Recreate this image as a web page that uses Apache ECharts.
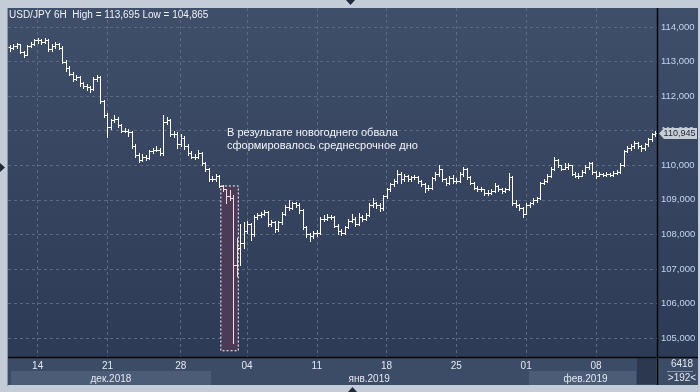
<!DOCTYPE html>
<html><head><meta charset="utf-8">
<script src="https://cdn.jsdelivr.net/npm/echarts@6/dist/echarts.min.js"></script>
<style>html,body{margin:0;padding:0;background:#c3ccd7;overflow:hidden}#c{width:700px;height:392px}</style>
</head><body><div id="c"></div><script>
const opens=[113.42,113.39,113.45,113.50,113.28,113.20,113.45,113.52,113.62,113.63,
113.58,113.62,113.35,113.45,113.50,113.40,113.00,112.80,112.65,112.50,
112.55,112.38,112.30,112.25,112.20,112.50,112.55,111.85,111.45,111.10,
111.30,111.35,111.15,111.00,111.00,110.95,110.55,110.30,110.15,110.25,
110.20,110.40,110.45,110.45,110.35,111.25,111.30,110.90,110.90,110.60,
110.80,110.55,110.35,110.25,110.25,110.35,110.05,109.90,109.60,109.60,
109.70,109.40,109.30,109.10,109.05,107.10,107.60,107.75,108.10,108.30,
108.00,108.50,108.55,108.60,108.65,108.30,108.35,108.15,108.35,108.60,
108.80,108.75,108.90,108.85,108.70,108.20,108.00,107.95,108.05,108.05,
108.45,108.45,108.50,108.50,108.25,108.10,108.05,108.20,108.40,108.45,
108.30,108.50,108.45,108.55,108.85,108.90,108.85,108.75,109.10,109.30,
109.45,109.55,109.75,109.60,109.70,109.60,109.65,109.65,109.55,109.45,
109.35,109.35,109.62,109.75,109.88,109.60,109.50,109.62,109.55,109.55,
109.75,109.90,109.65,109.50,109.35,109.30,109.30,109.20,109.20,109.25,
109.40,109.30,109.25,109.30,109.65,108.90,108.85,108.75,108.60,108.85,
108.90,109.00,109.05,109.50,109.55,109.70,109.90,110.15,110.00,109.90,
109.95,110.00,109.75,109.70,109.70,109.80,109.95,110.05,109.80,109.70,
109.75,109.72,109.75,109.72,109.78,109.80,110.00,110.40,110.50,110.55,
110.65,110.55,110.50,110.60,110.75,110.90];
const highs=[113.48,113.50,113.55,113.52,113.32,113.48,113.58,113.66,113.695,113.66,
113.68,113.64,113.50,113.56,113.53,113.44,113.05,112.86,112.70,112.62,
112.58,112.42,112.36,112.30,112.55,112.62,112.58,111.90,111.50,111.35,
111.45,111.40,111.20,111.08,111.05,110.98,110.60,110.35,110.32,110.30,
110.45,110.50,110.55,110.50,111.45,111.40,111.35,110.98,110.95,110.90,
110.85,110.60,110.40,110.32,110.45,110.38,110.10,109.92,109.68,109.75,
109.72,109.42,109.32,109.28,109.15,107.90,108.30,108.35,108.40,108.32,
108.55,108.62,108.65,108.70,108.68,108.42,108.38,108.40,108.65,108.85,
109.00,108.95,108.95,108.90,108.72,108.25,108.05,108.10,108.12,108.50,
108.55,108.58,108.55,108.52,108.30,108.15,108.25,108.45,108.60,108.50,
108.62,108.55,108.62,108.90,109.05,108.95,108.90,109.15,109.35,109.50,
109.60,109.85,109.80,109.75,109.72,109.70,109.72,109.68,109.58,109.48,
109.42,109.65,109.80,110.00,109.90,109.62,109.68,109.72,109.62,109.80,
109.95,109.92,109.68,109.52,109.40,109.38,109.32,109.28,109.30,109.48,
109.42,109.35,109.35,109.78,109.70,108.98,108.88,108.78,108.90,108.95,
109.05,109.08,109.52,109.60,109.75,109.95,110.25,110.18,110.02,110.05,
110.05,110.02,109.80,109.78,109.85,110.02,110.08,110.08,109.82,109.80,
109.78,109.80,109.78,109.82,109.85,110.05,110.45,110.55,110.60,110.70,
110.68,110.58,110.65,110.80,110.92,111.00];
const lows=[113.31,113.36,113.40,113.24,113.14,113.18,113.42,113.48,113.55,113.52,
113.55,113.30,113.32,113.40,113.36,112.95,112.74,112.60,112.44,112.46,
112.30,112.24,112.18,112.12,112.18,112.45,111.80,111.40,110.82,111.05,
111.25,111.10,110.95,110.95,110.85,110.50,110.25,110.08,110.12,110.15,
110.18,110.36,110.40,110.30,110.30,111.20,110.85,110.82,110.50,110.55,
110.48,110.30,110.20,110.18,110.22,110.00,109.82,109.55,109.55,109.55,
109.36,109.24,108.90,108.98,104.865,106.80,107.10,107.60,108.05,107.85,
107.95,108.45,108.50,108.55,108.25,108.25,108.08,108.10,108.30,108.55,
108.70,108.72,108.80,108.62,108.15,107.92,107.80,107.90,107.95,108.02,
108.40,108.42,108.44,108.20,108.02,107.98,108.02,108.18,108.35,108.25,
108.28,108.38,108.42,108.52,108.80,108.75,108.68,108.70,109.05,109.25,
109.40,109.50,109.50,109.55,109.55,109.55,109.60,109.50,109.40,109.22,
109.28,109.32,109.58,109.70,109.55,109.42,109.45,109.50,109.50,109.52,
109.70,109.60,109.45,109.30,109.25,109.25,109.15,109.15,109.18,109.22,
109.25,109.20,109.22,109.28,108.85,108.80,108.70,108.50,108.58,108.80,
108.88,108.95,109.02,109.45,109.52,109.65,109.85,109.95,109.85,109.88,
109.90,109.72,109.65,109.62,109.68,109.78,109.90,109.75,109.62,109.68,
109.68,109.70,109.68,109.70,109.75,109.78,109.98,110.38,110.45,110.50,
110.50,110.42,110.45,110.55,110.70,110.85];
const closes=[113.39,113.45,113.50,113.28,113.20,113.45,113.52,113.62,113.63,113.58,
113.62,113.35,113.45,113.50,113.40,113.00,112.80,112.65,112.50,112.55,
112.38,112.30,112.25,112.20,112.50,112.55,111.85,111.45,111.10,111.30,
111.35,111.15,111.00,111.00,110.95,110.55,110.30,110.15,110.25,110.20,
110.40,110.45,110.45,110.35,111.25,111.30,110.90,110.90,110.60,110.80,
110.55,110.35,110.25,110.25,110.35,110.05,109.90,109.60,109.60,109.70,
109.40,109.30,109.10,109.05,107.10,107.60,107.75,108.10,108.30,108.00,
108.50,108.55,108.60,108.65,108.30,108.35,108.15,108.35,108.60,108.80,
108.75,108.90,108.85,108.70,108.20,108.00,107.95,108.05,108.05,108.45,
108.45,108.50,108.50,108.25,108.10,108.05,108.20,108.40,108.45,108.30,
108.50,108.45,108.55,108.85,108.90,108.85,108.75,109.10,109.30,109.45,
109.55,109.75,109.60,109.70,109.60,109.65,109.65,109.55,109.45,109.35,
109.35,109.62,109.75,109.88,109.60,109.50,109.62,109.55,109.55,109.75,
109.90,109.65,109.50,109.35,109.30,109.30,109.20,109.20,109.25,109.40,
109.30,109.25,109.30,109.65,108.90,108.85,108.75,108.60,108.85,108.90,
109.00,109.05,109.50,109.55,109.70,109.90,110.15,110.00,109.90,109.95,
110.00,109.75,109.70,109.70,109.80,109.95,110.05,109.80,109.70,109.75,
109.72,109.75,109.72,109.78,109.80,110.00,110.40,110.50,110.55,110.65,
110.55,110.50,110.60,110.75,110.90,110.945];
const dayTickIndex=[8,28,49,68,88,108,128,148,168];
const dayTickLabels=['14','21','28','04','11','18','25','01','08'];
const monthIndex=[29,103,165];
const monthLabels=['дек.2018','янв.2019','фев.2019'];
const boxStart=61, boxEnd=65, boxTop=109.40, boxBottom=104.63;
const yMin=104.45, yMax=114.55;
const titleText='USD/JPY 6H  High = 113,695 Low = 104,865';
const noteLines=['В результате новогоднего обвала','сформировалось среднесрочное дно'];
const barCountText='6418', visibleText='>192<';

const FONT='"Liberation Sans", Arial, sans-serif';
const cats=closes.map((_,i)=>String(i));
const ohlc=closes.map((c,i)=>[i,opens[i],highs[i],lows[i],c]);
const fmt=v=>v.toFixed(3).replace('.',',');

function renderOHLC(params,api){
  const i=api.value(0);
  const P=v=>api.coord([i,v]);
  const x=Math.round(P(api.value(1))[0])+0.5;
  const oy=Math.round(P(api.value(1))[1])+0.5;
  const hy=Math.round(P(api.value(2))[1]);
  const ly=Math.round(P(api.value(3))[1])+1;
  const cy=Math.round(P(api.value(4))[1])+0.5;
  const col=(i>=boxStart&&i<=boxEnd)?'#f6dbe6':'#ffffff';
  return {type:'group',children:[
    {type:'line',shape:{x1:x,y1:hy,x2:x,y2:ly},style:{stroke:col,lineWidth:1}},
    {type:'line',shape:{x1:x-2,y1:oy,x2:x,y2:oy},style:{stroke:col,lineWidth:1}},
    {type:'line',shape:{x1:x,y1:cy,x2:x+2.5,y2:cy},style:{stroke:col,lineWidth:1}}
  ]};
}

const chart=echarts.init(document.getElementById('c'),null,{renderer:'canvas'});
const gridLine={color:'#5b6984',type:[3,3],width:1};
const baseGraphics=[
  {id:'bg',type:'rect',z:-20,shape:{x:8,y:8,width:690,height:377},
   style:{fill:new echarts.graphic.LinearGradient(0,0,0,1,[{offset:0,color:'#3f4e69'},{offset:1,color:'#2c3954'}])}},
  {id:'band',type:'rect',z:-19,shape:{x:8,y:358,width:690,height:27},style:{fill:'#3d4c66'}},
  {id:'mdec',type:'rect',z:-18,shape:{x:11,y:371,width:200,height:14},style:{fill:'#4c5c77'}},
  {id:'mfeb',type:'rect',z:-18,shape:{x:529,y:371,width:107,height:14},style:{fill:'#4c5c77'}},
  {id:'dk',type:'rect',z:-18,shape:{x:637,y:358,width:19,height:26},style:{fill:'#2b3850'}},
  {id:'lft',type:'line',z:-17,shape:{x1:7.5,y1:8,x2:7.5,y2:386},style:{stroke:'#8c97a8',lineWidth:1}},
  {id:'vl',type:'line',z:10,shape:{x1:657.5,y1:8,x2:657.5,y2:385},style:{stroke:'#05080d',lineWidth:1.5}},
  {id:'hl',type:'line',z:10,shape:{x1:8,y1:357.5,x2:698,y2:357.5},style:{stroke:'#05080d',lineWidth:1.5}},
  {id:'sep',type:'line',z:10,shape:{x1:667,y1:371.5,x2:693,y2:371.5},style:{stroke:'#8090a8',lineWidth:1}},
  {id:'t1',type:'text',z:10,x:682,y:364,style:{text:barCountText,fill:'#e2e8f0',font:'10px '+FONT,textAlign:'center',textVerticalAlign:'middle'}},
  {id:'t2',type:'text',z:10,x:682,y:378,style:{text:visibleText,fill:'#e2e8f0',font:'10px '+FONT,textAlign:'center',textVerticalAlign:'middle'}},
  {id:'title',type:'text',z:10,x:9,y:15,style:{text:titleText,fill:'#eef2f8',font:'10px '+FONT,textVerticalAlign:'middle'}},
  {id:'n1',type:'text',z:10,x:227,y:133,style:{text:noteLines[0],fill:'#f2f5fa',font:'11px '+FONT,textVerticalAlign:'middle'}},
  {id:'n2',type:'text',z:10,x:227,y:146,style:{text:noteLines[1],fill:'#f2f5fa',font:'11px '+FONT,textVerticalAlign:'middle'}},
  {id:'trT',type:'polygon',z:10,shape:{points:[[346,0],[355,0],[350.5,5]]},style:{fill:'#1f2a3a'}},
  {id:'trL',type:'polygon',z:10,shape:{points:[[0,163],[0,172],[5,167.5]]},style:{fill:'#1f2a3a'}},
  {id:'trB',type:'polygon',z:10,shape:{points:[[348,392],[357,392],[352.5,387]]},style:{fill:'#1f2a3a'}}
];

chart.setOption({
  animation:false,
  backgroundColor:'#c3ccd7',
  grid:{left:8,top:8,right:43,bottom:35,containLabel:false},
  xAxis:[
    {type:'category',data:cats,boundaryGap:true,position:'bottom',
     axisLine:{show:false},axisTick:{show:false,alignWithLabel:true},
     axisLabel:{interval:(i)=>dayTickIndex.includes(i),formatter:(v,i)=>{const k=dayTickIndex.indexOf(+v);return k>=0?dayTickLabels[k]:'';},
       color:'#e2e8f0',fontSize:10,fontFamily:FONT,margin:4},
     splitLine:{show:true,interval:(i)=>dayTickIndex.includes(i),alignWithLabel:true,lineStyle:gridLine}},
    {type:'category',data:cats,boundaryGap:true,position:'bottom',offset:13,
     axisLine:{show:false},axisTick:{show:false},splitLine:{show:false},
     axisLabel:{interval:(i)=>monthIndex.includes(i),formatter:(v)=>{const k=monthIndex.indexOf(+v);return k>=0?monthLabels[k]:'';},
       color:'#e2e8f0',fontSize:10,fontFamily:FONT,margin:4}},
    {type:'value',min:-0.5,max:closes.length-0.5,show:false}
  ],
  yAxis:{type:'value',position:'right',min:yMin,max:yMax,splitNumber:10,
    axisLine:{show:false},axisTick:{show:false},
    axisLabel:{showMinLabel:false,showMaxLabel:false,margin:4,color:'#c3d6ee',fontSize:9.5,fontFamily:FONT,
      formatter:v=>Math.abs(v-Math.round(v))<1e-6?fmt(v):''},
    splitLine:{show:true,showMinLine:false,showMaxLine:false,lineStyle:gridLine}},
  series:[
    {type:'line',xAxisIndex:2,data:[],silent:true,
     markArea:{silent:true,itemStyle:{color:'#4a3c57',borderColor:'#ffffff',borderWidth:1,borderType:[2,2]},
       data:[[{xAxis:boxStart-0.5,yAxis:boxTop},{xAxis:boxEnd+0.5,yAxis:boxBottom}]]}},
    {type:'custom',xAxisIndex:0,data:ohlc,encode:{x:0,y:[1,2,3,4]},renderItem:renderOHLC,z:5}
  ],
  graphic:{elements:baseGraphics}
});

const last=closes[closes.length-1];
const yy=Math.round(chart.convertToPixel({yAxisIndex:0},last))+0.5;
chart.setOption({graphic:{elements:baseGraphics.concat([
  {id:'tag',type:'polygon',z:11,shape:{points:[[659,yy],[664,yy-5.5],[697,yy-5.5],[697,yy+5.5],[664,yy+5.5]]},style:{fill:'#c9ced6'}},
  {id:'tagt',type:'text',z:12,x:679.5,y:yy,style:{text:fmt(last),fill:'#1d2535',font:'9px '+FONT,textAlign:'center',textVerticalAlign:'middle'}}
])}});
</script></body></html>
